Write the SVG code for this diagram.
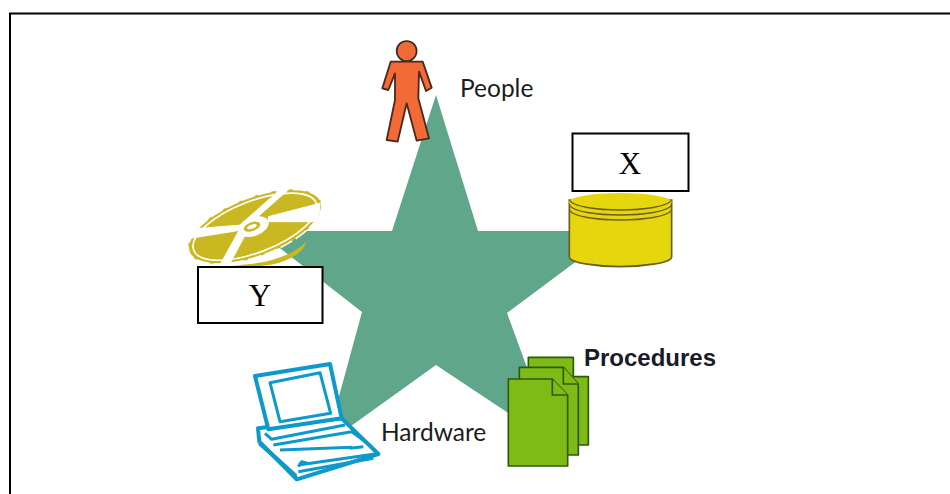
<svg xmlns="http://www.w3.org/2000/svg" width="950" height="494" viewBox="0 0 950 494">
<style>
.lbl{font-family:"Lato","Liberation Sans",sans-serif;font-size:24.500px;fill:#1c1c1c}
.box{fill:#fff;stroke:#000;stroke-width:2}
.boxt{font-family:"Liberation Serif",serif;font-size:31px;fill:#000;text-anchor:middle}
.doc{fill:#7fbb14;stroke:#2f5a10;stroke-width:5;stroke-linejoin:round}
.lap{fill:#fff;stroke:#1199cc;stroke-width:12;stroke-linejoin:round}
.lapl{fill:none;stroke:#1199cc;stroke-width:9;stroke-linejoin:round}
.cyl{fill:#e6d60e;stroke:#6b5f20;stroke-width:5}
.gap{fill:#fff;stroke:#fff;stroke-width:3;stroke-linejoin:round}
</style>
<defs><filter id="soft" x="-5%" y="-5%" width="110%" height="110%"><feGaussianBlur stdDeviation="0.5"/></filter></defs>
<rect width="950" height="494" fill="#fff"/>
<path d="M10 494V13.500H950" fill="none" stroke="#000" stroke-width="2"/>
<g id="star"><polygon points="436,95 478,231 617,231 507,313 555,444 436,365 326,444 362,312 258,231 392,231" fill="#5fa68b" filter="url(#soft)"/></g>
<g id="people" filter="url(#soft)" transform="translate(350 20) scale(.33333)">
<polygon points="122,125 218,125 245,203 228,213 207,155 205,235 237,355 200,362 170,250 143,365 110,360 135,240 135,160 115,210 97,205" fill="#f26a35" stroke="#4a2a1c" stroke-width="5.500" stroke-linejoin="round"/>
<circle cx="170" cy="93" r="30" fill="#f26a35" stroke="#3a2a20" stroke-width="5"/>
</g>
<text class="lbl" x="460" y="97">People</text>
<g id="software" filter="url(#soft)" transform="translate(170 170) scale(.33333)">
<path d="M190 285C260 285 350 270 410 215C390 270 300 300 190 285Z" fill="#c9b820"/>
<ellipse cx="255" cy="170" rx="212" ry="88" transform="rotate(-21 255 170)" fill="#c9b820"/>
<ellipse cx="255" cy="170" rx="197" ry="77" transform="rotate(-21 255 170)" fill="none" stroke="#fff" stroke-width="5"/>
<ellipse cx="255" cy="170" rx="212" ry="88" transform="rotate(-21 255 170)" fill="none" stroke="#fff" stroke-width="5" stroke-dasharray="40 12"/>
<polygon class="gap" points="338,52 352,62 235,165 210,165"/>
<polygon class="gap" points="55,178 60,205 215,180 215,165"/>
<polygon class="gap" points="295,140 450,100 445,155 295,155"/>
<polygon class="gap" points="205,185 228,190 175,290 150,285"/>
<ellipse cx="250" cy="170" rx="48" ry="28" transform="rotate(-20 250 170)" fill="#fff"/>
<ellipse cx="246" cy="170" rx="26" ry="13" transform="rotate(-20 246 170)" fill="#c9b820"/>
<ellipse cx="246" cy="170" rx="15" ry="6" transform="rotate(-20 246 170)" fill="#fff"/>
</g>
<g id="storage" filter="url(#soft)" transform="translate(550 125) scale(.33333)">
<path d="M58 225V395C58 415 150 425 210 425S365 415 365 395V225Z" class="cyl"/>
<ellipse cx="211" cy="231" rx="154" ry="27" fill="#e6d60e"/>
<path d="M58 225C80 265 340 265 365 225M58 240C80 280 340 280 365 240M58 255C80 295 340 295 365 255" fill="none" stroke="#6b5f20" stroke-width="4"/>
</g>
<g id="hardware-icon" filter="url(#soft)" transform="translate(230 350) scale(.33333)">
<polygon class="lap" points="84,235 335,205 445,312 200,388 88,275"/>
<polygon points="88,270 200,372 205,392 85,285" fill="#1199cc"/>
<polygon class="lap" points="75,78 300,42 335,205 115,238"/>
<polygon class="lapl" points="120,98 270,68 302,190 150,215"/>
<path class="lapl" d="M105 250L125 268L345 225M130 285L365 245L425 290M150 300L365 292M205 345L435 312M205 350L215 335L235 340M360 295L400 290M205 365L430 325"/>
</g>
<text class="lbl" x="381" y="441">Hardware</text>
<g id="procedures-icon" filter="url(#soft)" transform="translate(490 340) scale(.33333)">
<polygon class="doc" points="115,52 250,52 250,110 295,110 295,315 115,315"/>
<polygon class="doc" points="88,82 220,82 265,132 265,345 88,345"/>
<path class="doc" d="M220 82V132H265"/>
<polygon class="doc" points="55,117 187,117 233,165 233,378 55,378"/>
<path class="doc" d="M187 117V165H233"/>
</g>
<text x="584" y="366" font-family="Liberation Sans, sans-serif" font-weight="700" font-size="24" textLength="132" lengthAdjust="spacingAndGlyphs" fill="#1a1a2a">Procedures</text>
<g id="x"><rect class="box" x="572.500" y="133.500" width="116" height="57.500"/><text class="boxt" x="630" y="174">X</text></g>
<g id="y"><rect class="box" x="198" y="267" width="124.500" height="56"/><text class="boxt" x="260" y="306">Y</text></g>
</svg>
